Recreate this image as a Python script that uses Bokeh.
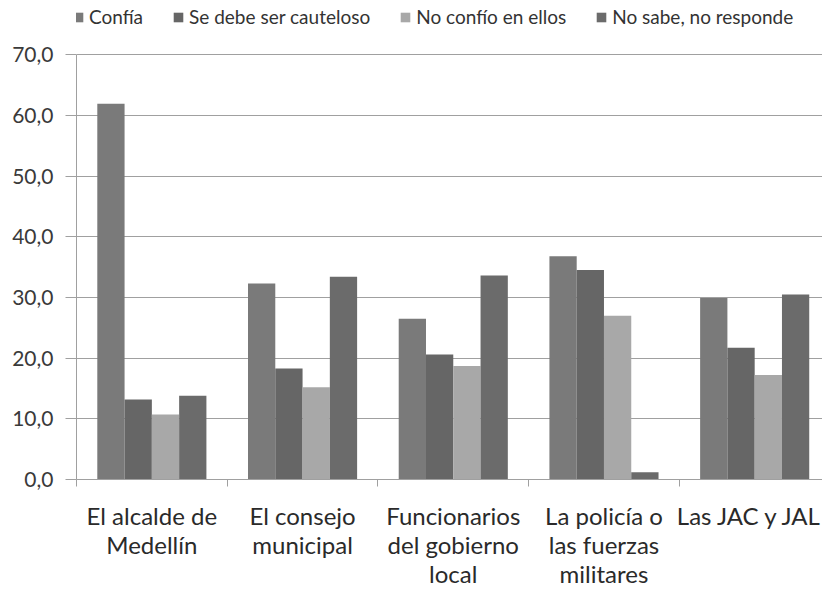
from bokeh.plotting import figure
from bokeh.models import ColumnDataSource, FixedTicker, Legend, LegendItem, Range1d
from bokeh.transform import dodge
from bokeh.embed import file_html
from bokeh.resources import INLINE

# ---- data ----
categories = ["El alcalde de\nMedellín", "El consejo\nmunicipal",
              "Funcionarios\ndel gobierno\nlocal", "La policía o\nlas fuerzas\nmilitares",
              "Las JAC y JAL"]
series_names = ["Confía", "Se debe ser cauteloso", "No confío en ellos", "No sabe, no responde"]
confia = [61.9, 32.3, 26.5, 36.8, 29.9]
cauteloso = [13.2, 18.3, 20.6, 34.5, 21.7]
no_confio = [10.7, 15.2, 18.7, 27.0, 17.2]
no_sabe = [13.8, 33.4, 33.6, 1.2, 30.5]
y_ticks = [0, 10, 20, 30, 40, 50, 60, 70]
y_tick_labels = ["0,0", "10,0", "20,0", "30,0", "40,0", "50,0", "60,0", "70,0"]

colors = ["#7a7a7a", "#666666", "#a8a8a8", "#6b6b6b"]
keys = ["confia", "cauteloso", "no_confio", "no_sabe"]

idx = list(range(len(categories)))
source = ColumnDataSource(data=dict(x=idx, confia=confia, cauteloso=cauteloso,
                                    no_confio=no_confio, no_sabe=no_sabe))

p = figure(width=822, height=590, output_backend="svg", toolbar_location=None,
           x_range=Range1d(-0.5, 4.45), y_range=Range1d(0, 78.92),
           min_border_left=76, min_border_right=0, min_border_top=0,
           min_border_bottom=100)
p.outline_line_color = None
p.background_fill_color = "white"
p.border_fill_color = "white"

bw = 0.181
offsets = [-1.5 * bw, -0.5 * bw, 0.5 * bw, 1.5 * bw]
items = []
for k, name, col, off in zip(keys, series_names, colors, offsets):
    r = p.vbar(x=dodge("x", off, range=p.x_range), top=k, width=bw, source=source,
               fill_color=col, line_color=None)
    items.append(LegendItem(label=name, renderers=[r]))

legend = Legend(items=items, orientation="horizontal", location=(-4, 451),
                padding=0, margin=0, spacing=29, glyph_width=12, glyph_height=12,
                label_standoff=5, border_line_color=None, background_fill_alpha=0,
                label_text_font="Lato", label_text_font_size="19px",
                label_text_color="#333333")
p.add_layout(legend)

# y axis
p.yaxis.ticker = FixedTicker(ticks=y_ticks, minor_ticks=[])
p.yaxis.major_label_overrides = {t: l for t, l in zip(y_ticks, y_tick_labels)}
p.yaxis.bounds = (0, 70)
p.yaxis.axis_line_color = "#a0a0a0"
p.yaxis.major_tick_line_color = "#a0a0a0"
p.yaxis.major_tick_out = 11
p.yaxis.major_tick_in = 0
p.yaxis.minor_tick_line_color = None
p.yaxis.major_label_standoff = 12
p.yaxis.major_label_text_font = "Lato"
p.yaxis.major_label_text_font_size = "21px"
p.yaxis.major_label_text_color = "#3a3a3a"

# x axis
p.xaxis.ticker = FixedTicker(ticks=idx, minor_ticks=[i - 0.5 for i in idx] + [len(idx) - 0.5])
p.xaxis.major_label_overrides = {i: c for i, c in zip(idx, categories)}
p.xaxis.axis_line_color = "#a0a0a0"
p.xaxis.major_tick_line_color = None
p.xaxis.major_tick_out = 0
p.xaxis.major_tick_in = 0
p.xaxis.minor_tick_line_color = "#a0a0a0"
p.xaxis.minor_tick_out = 7
p.xaxis.minor_tick_in = 0
p.xaxis.major_label_standoff = 14
p.xaxis.major_label_text_font = "Lato"
p.xaxis.major_label_text_font_size = "24px"
p.xaxis.major_label_text_color = "#2a2a2a"
p.xaxis.major_label_text_line_height = 1.0

p.xgrid.grid_line_color = None
p.ygrid.ticker = FixedTicker(ticks=y_ticks, minor_ticks=[])
p.ygrid.grid_line_color = "#a0a0a0"
p.ygrid.grid_line_width = 1

open("out.html", "w").write(file_html(p, INLINE))
